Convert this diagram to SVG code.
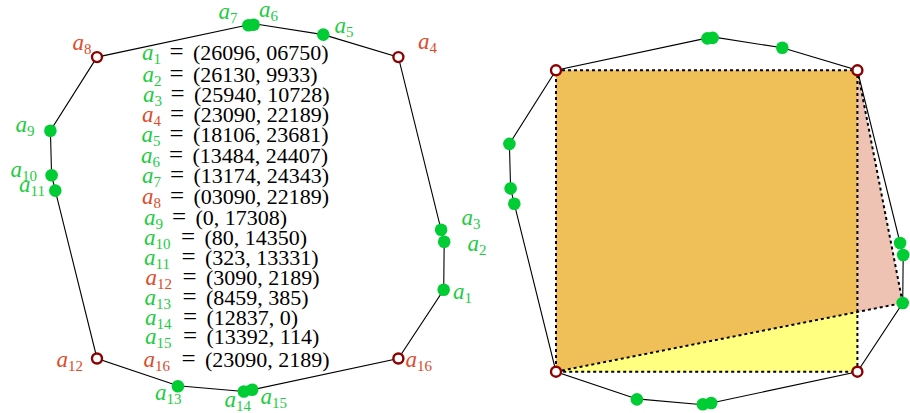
<svg xmlns="http://www.w3.org/2000/svg" width="910" height="413" viewBox="0 0 910 413">
<style>
text{font-family:"Liberation Serif","Times New Roman",serif;font-size:23px;fill:#000}
.a{font-style:italic}
.s{font-size:15px;font-style:normal}
.g{fill:#1ccc3e}
.r{fill:#dd4b2a}
.c{font-size:22px}
.e{font-size:25px}
.edge{fill:none;stroke:#000;stroke-width:1.1}
.dash{fill:none;stroke:#000;stroke-width:2;stroke-dasharray:3 3}
.dot{fill:#00cc33}
.ring{fill:#fff;stroke:#8b0000;stroke-width:2.4}
</style>
<defs>
<circle id="gd" r="6.3" class="dot"/>
<circle id="rd" r="5" class="ring"/>
</defs>

<!-- right figure fills -->
<g id="fills">
<polygon points="556,70.3 857.4,70.3 857.4,312 556,371.7" fill="#efc058"/>
<polygon points="857.4,70.3 902.7,303 857.4,312" fill="#efc3b3"/>
<polygon points="556,371.7 857.4,312 857.4,371.7" fill="#ffff80"/>
</g>

<g id="connectors">
<polygon class="edge" points="443.7,289.8 444.2,241.8 441.1,229.8 398.4,57.1 323.3,34.6 253.6,23.7 248.9,24.7 97,57.1 50.4,130.7 51.6,175.2 55.3,190.6 97,358.5 177.9,385.7 243.9,391.5 252.2,389.8 398.4,358.5"/>
<polygon class="dash" points="556,70.3 857.4,70.3 857.4,371.7 556,371.7"/>
<polyline class="dash" points="556,371.7 902.7,303 857.4,70.3"/>
<polygon class="edge" points="902.7,303 903.2,255 900.1,243 857.4,70.3 782.3,47.8 712.6,36.9 707.9,37.9 556,70.3 509.4,143.9 510.6,188.4 514.3,203.8 556,371.7 636.9,398.9 702.9,404.7 711.2,403 857.4,371.7"/>
</g>

<!-- left figure nodes -->
<g id="L-a1"><use href="#gd" x="443.7" y="289.8"/><text class="a g" x="453" y="299">a<tspan class="s" dy="4">1</tspan></text></g>
<g id="L-a2"><use href="#gd" x="444.2" y="241.8"/><text class="a g" x="467.5" y="251">a<tspan class="s" dy="4">2</tspan></text></g>
<g id="L-a3"><use href="#gd" x="441.1" y="229.8"/><text class="a g" x="461.5" y="225">a<tspan class="s" dy="4">3</tspan></text></g>
<g id="L-a4"><use href="#rd" x="398.4" y="57.1"/><text class="a r" x="418" y="49">a<tspan class="s" dy="4">4</tspan></text></g>
<g id="L-a5"><use href="#gd" x="323.3" y="34.6"/><text class="a g" x="334.5" y="33">a<tspan class="s" dy="4">5</tspan></text></g>
<g id="L-a6"><use href="#gd" x="253.6" y="24.7"/><text class="a g" x="259" y="17">a<tspan class="s" dy="4">6</tspan></text></g>
<g id="L-a7"><use href="#gd" x="248.4" y="25.2"/><text class="a g" x="218.5" y="19">a<tspan class="s" dy="4">7</tspan></text></g>
<g id="L-a8"><use href="#rd" x="97" y="57.1"/><text class="a r" x="72.5" y="50">a<tspan class="s" dy="4">8</tspan></text></g>
<g id="L-a9"><use href="#gd" x="50.4" y="130.7"/><text class="a g" x="15.5" y="131.5">a<tspan class="s" dy="4">9</tspan></text></g>
<g id="L-a10"><use href="#gd" x="51.6" y="175.2"/><text class="a g" x="10.5" y="176.5">a<tspan class="s" dy="4">10</tspan></text></g>
<g id="L-a11"><use href="#gd" x="55.3" y="190.6"/><text class="a g" x="19" y="191.5">a<tspan class="s" dy="4">11</tspan></text></g>
<g id="L-a12"><use href="#rd" x="97" y="358.5"/><text class="a r" x="56.5" y="366.5">a<tspan class="s" dy="4">12</tspan></text></g>
<g id="L-a13"><use href="#gd" x="177.9" y="386.2"/><text class="a g" x="155" y="400">a<tspan class="s" dy="4">13</tspan></text></g>
<g id="L-a14"><use href="#gd" x="243.9" y="391.5"/><text class="a g" x="224.5" y="406.5">a<tspan class="s" dy="4">14</tspan></text></g>
<g id="L-a15"><use href="#gd" x="252.2" y="389.8"/><text class="a g" x="260.5" y="404">a<tspan class="s" dy="4">15</tspan></text></g>
<g id="L-a16"><use href="#rd" x="398.4" y="358.5"/><text class="a r" x="405.5" y="367">a<tspan class="s" dy="4">16</tspan></text></g>

<!-- right figure nodes -->
<g id="R-a1"><use href="#gd" x="902.7" y="303"/></g>
<g id="R-a2"><use href="#gd" x="903.2" y="255"/></g>
<g id="R-a3"><use href="#gd" x="900.1" y="243"/></g>
<g id="R-a4"><use href="#rd" x="857.4" y="70.3"/></g>
<g id="R-a5"><use href="#gd" x="782.3" y="47.8"/></g>
<g id="R-a6"><use href="#gd" x="712.6" y="37.9"/></g>
<g id="R-a7"><use href="#gd" x="707.4" y="38.4"/></g>
<g id="R-a8"><use href="#rd" x="556" y="70.3"/></g>
<g id="R-a9"><use href="#gd" x="509.4" y="143.9"/></g>
<g id="R-a10"><use href="#gd" x="510.6" y="188.4"/></g>
<g id="R-a11"><use href="#gd" x="514.3" y="203.8"/></g>
<g id="R-a12"><use href="#rd" x="556" y="371.7"/></g>
<g id="R-a13"><use href="#gd" x="636.9" y="399.4"/></g>
<g id="R-a14"><use href="#gd" x="702.9" y="404.2"/></g>
<g id="R-a15"><use href="#gd" x="711.2" y="403"/></g>
<g id="R-a16"><use href="#rd" x="857.4" y="371.7"/></g>

<!-- coordinate list -->
<g id="list">
<text y="60"><tspan class="a g" x="142">a</tspan><tspan class="s g" dy="4">1</tspan><tspan class="e" x="169.5" dy="-4">=</tspan><tspan class="c" x="193">(26096, 06750)</tspan></text>
<text y="82"><tspan class="a g" x="142.5">a</tspan><tspan class="s g" dy="4">2</tspan><tspan class="e" x="169.5" dy="-4">=</tspan><tspan class="c" x="193">(26130, 9933)</tspan></text>
<text y="102"><tspan class="a g" x="143">a</tspan><tspan class="s g" dy="4">3</tspan><tspan class="e" x="170.5" dy="-4">=</tspan><tspan class="c" x="194">(25940, 10728)</tspan></text>
<text y="122"><tspan class="a r" x="142">a</tspan><tspan class="s r" dy="4">4</tspan><tspan class="e" x="170" dy="-4">=</tspan><tspan class="c" x="193.5">(23090, 22189)</tspan></text>
<text y="142"><tspan class="a g" x="141.5">a</tspan><tspan class="s g" dy="4">5</tspan><tspan class="e" x="169.5" dy="-4">=</tspan><tspan class="c" x="193">(18106, 23681)</tspan></text>
<text y="163"><tspan class="a g" x="141">a</tspan><tspan class="s g" dy="4">6</tspan><tspan class="e" x="169" dy="-4">=</tspan><tspan class="c" x="192.5">(13484, 24407)</tspan></text>
<text y="183"><tspan class="a g" x="142">a</tspan><tspan class="s g" dy="4">7</tspan><tspan class="e" x="170" dy="-4">=</tspan><tspan class="c" x="193.5">(13174, 24343)</tspan></text>
<text y="204"><tspan class="a r" x="142">a</tspan><tspan class="s r" dy="4">8</tspan><tspan class="e" x="170" dy="-4">=</tspan><tspan class="c" x="193.5">(03090, 22189)</tspan></text>
<text y="225"><tspan class="a g" x="144">a</tspan><tspan class="s g" dy="4">9</tspan><tspan class="e" x="172" dy="-4">=</tspan><tspan class="c" x="195.5">(0, 17308)</tspan></text>
<text y="245"><tspan class="a g" x="144">a</tspan><tspan class="s g" dy="4">10</tspan><tspan class="e" x="181" dy="-4">=</tspan><tspan class="c" x="204.5">(80, 14350)</tspan></text>
<text y="265"><tspan class="a g" x="144">a</tspan><tspan class="s g" dy="4">11</tspan><tspan class="e" x="181.5" dy="-4">=</tspan><tspan class="c" x="205">(323, 13331)</tspan></text>
<text y="285"><tspan class="a r" x="145.5">a</tspan><tspan class="s r" dy="4">12</tspan><tspan class="e" x="182.5" dy="-4">=</tspan><tspan class="c" x="206">(3090, 2189)</tspan></text>
<text y="305"><tspan class="a g" x="144.5">a</tspan><tspan class="s g" dy="4">13</tspan><tspan class="e" x="182.5" dy="-4">=</tspan><tspan class="c" x="206">(8459, 385)</tspan></text>
<text y="325"><tspan class="a g" x="145">a</tspan><tspan class="s g" dy="4">14</tspan><tspan class="e" x="183" dy="-4">=</tspan><tspan class="c" x="206.5">(12837, 0)</tspan></text>
<text y="344"><tspan class="a g" x="145">a</tspan><tspan class="s g" dy="4">15</tspan><tspan class="e" x="183" dy="-4">=</tspan><tspan class="c" x="206.5">(13392, 114)</tspan></text>
<text y="367"><tspan class="a r" x="143.5">a</tspan><tspan class="s r" dy="4">16</tspan><tspan class="e" x="181.5" dy="-4">=</tspan><tspan class="c" x="205">(23090, 2189)</tspan></text>
</g>
</svg>
